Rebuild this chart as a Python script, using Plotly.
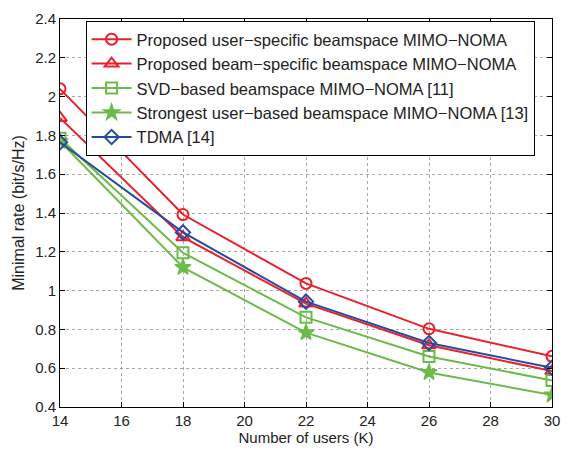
import plotly.graph_objects as go

users = [14, 18, 22, 26, 30]
user_specific = [2.04, 1.392, 1.037, 0.803, 0.661]
beam_specific = [1.89, 1.275, 0.933, 0.718, 0.585]
svd_based = [1.785, 1.195, 0.862, 0.66, 0.537]
strongest = [1.77, 1.12, 0.783, 0.578, 0.462]
tdma = [1.765, 1.30, 0.943, 0.73, 0.602]

names = [
    "Proposed user\u2212specific beamspace MIMO\u2212NOMA",
    "Proposed beam\u2212specific beamspace MIMO\u2212NOMA",
    "SVD\u2212based beamspace MIMO\u2212NOMA [11]",
    "Strongest user\u2212based beamspace MIMO\u2212NOMA [13]",
    "TDMA [14]",
]
series = [user_specific, beam_specific, svd_based, strongest, tdma]
colors = ["#e8212b", "#e8212b", "#6cba4a", "#6cba4a", "#2a4aa0"]
symbols = ["circle-open", "triangle-up-open", "square-open", "star", "diamond-open"]
sizes = [11, 12, 11, 12, 11]

fig = go.Figure()
for n, s, c, sym, sz in zip(names, series, colors, symbols, sizes):
    fig.add_trace(go.Scatter(
        x=users, y=s, name=n, mode="lines+markers",
        line=dict(color=c, width=2),
        marker=dict(symbol=sym, size=sz, color=c, line=dict(color=c, width=1.5 if sym == "star" else 2)),
    ))

axis_common = dict(
    showline=True, linecolor="black", linewidth=1, mirror="ticks",
    ticks="inside", ticklen=5, tickcolor="black",
    showgrid=True, gridcolor="#a8a8a8", griddash="dot", gridwidth=1,
    zeroline=False, tickfont=dict(size=15, color="#222"),
)

fig.update_layout(
    width=570, height=452,
    margin=dict(l=60, r=10, t=14, b=45),
    paper_bgcolor="white", plot_bgcolor="white",
    font=dict(family="Liberation Sans, Arial, sans-serif", size=15, color="#222"),
    xaxis=dict(range=[14, 30], dtick=2, title=dict(text="Number of users (K)", standoff=2, font=dict(size=15)), **axis_common),
    yaxis=dict(range=[0.4, 2.4], dtick=0.2, tickformat="~g", title=dict(text="Minimal rate (bit/s/Hz)", standoff=6, font=dict(size=16)), **axis_common),
    legend=dict(x=0.052, y=0.995, xanchor="left", yanchor="top",
                bgcolor="white", bordercolor="black", borderwidth=1,
                font=dict(size=16.5, color="#222"), tracegroupgap=0, itemwidth=40),
    showlegend=True,
)

fig.write_html("out.html")
